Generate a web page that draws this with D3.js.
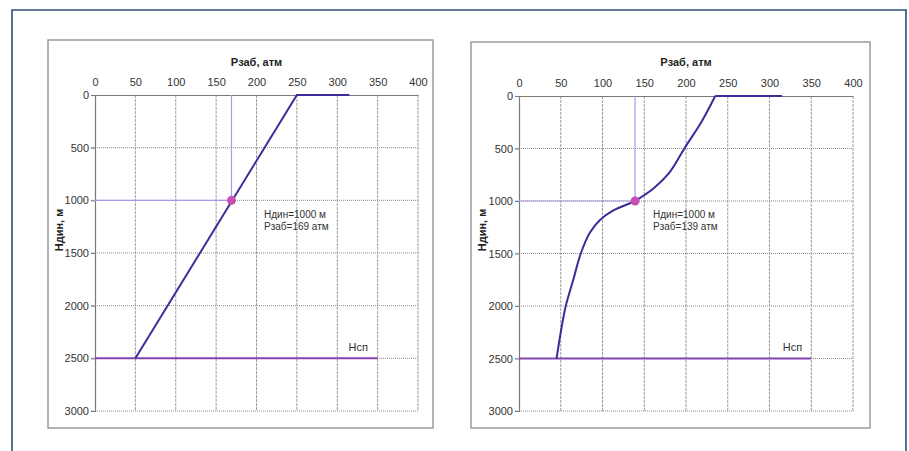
<!DOCTYPE html>
<html>
<head>
<meta charset="utf-8">
<script src="https://cdn.jsdelivr.net/npm/d3@7"></script>
<style>
  html, body { margin: 0; padding: 0; background: #fff; }
  svg { display: block; font-family: "Liberation Sans", Arial, sans-serif; }
</style>
</head>
<body>
<svg id="chart" width="909" height="451"></svg>
<script>
// Axis ticks
const pressureTicks = [0, 50, 100, 150, 200, 250, 300, 350, 400];
const depthTicks = [0, 500, 1000, 1500, 2000, 2500, 3000];

// Linear pressure profile (left panel)
const leftCurveP = [50, 250, 315];
const leftCurveH = [2500, 0, 0];

// Non-linear pressure profile (right panel), ordered by depth
const rightCurveP = [235, 219, 198, 181, 161, 145, 139, 113, 97, 85, 74, 65, 56, 50, 45];
const rightCurveH = [0, 240, 500, 720, 880, 970, 1000, 1090, 1180, 1300, 1500, 1750, 2000, 2250, 2500];
const rightTopP = [235, 315];
const rightTopH = [0, 0];

// Pump setting depth line
const nspP = [0, 350];
const nspH = [2500, 2500];

// Operating points
const leftPointP = 169, leftPointH = 1000;
const rightPointP = 139, rightPointH = 1000;

const xTitle = "Рзаб, атм";
const yTitle = "Ндин, м";
const nspLabel = "Нсп";

const svg = d3.select("#chart");

// outer frame
svg.append("path")
  .attr("d", "M12,460 L12,10 L906,10 L906,460")
  .attr("fill", "none").attr("stroke", "#2f4c7e").attr("stroke-width", 1.6);

function panel(opt) {
  const g = svg.append("g");
  const x = d3.scaleLinear().domain([0, 400]).range(opt.xr);
  const y = d3.scaleLinear().domain([0, 3000]).range(opt.yr);

  // panel box
  g.append("rect")
    .attr("x", opt.box[0]).attr("y", opt.box[1])
    .attr("width", opt.box[2] - opt.box[0]).attr("height", opt.box[3] - opt.box[1])
    .attr("fill", "#fff").attr("stroke", "#9a9a9a").attr("stroke-width", 1.5);

  // vertical grid
  g.selectAll(".vg").data(pressureTicks.filter(d => d > 0)).join("line")
    .attr("x1", d => x(d)).attr("x2", d => x(d))
    .attr("y1", y(0)).attr("y2", y(3000))
    .attr("stroke", "#9c9c9c").attr("stroke-width", 1)
    .attr("stroke-dasharray", "3,1");

  // horizontal grid
  g.selectAll(".hg").data(depthTicks.filter(d => d > 0)).join("line")
    .attr("x1", x(0) - 4).attr("x2", x(400))
    .attr("y1", d => y(d)).attr("y2", d => y(d))
    .attr("stroke", "#8a8a8a").attr("stroke-width", 1)
    .attr("stroke-dasharray", "1,1");

  // top axis
  const xAxis = d3.axisTop(x).tickValues(pressureTicks).tickFormat(d3.format("d"))
    .tickSize(0).tickPadding(9);
  const xa = g.append("g").attr("transform", `translate(0,${y(0)})`).call(xAxis);
  xa.select(".domain").attr("stroke", "#7a7a7a").attr("stroke-width", 1.2);
  xa.selectAll("text").attr("font-size", 11).attr("fill", "#333")
    .attr("font-family", "Liberation Sans, Arial, sans-serif");

  // left axis
  const yAxis = d3.axisLeft(y).tickValues(depthTicks).tickFormat(d3.format("d"))
    .tickSize(4).tickPadding(2);
  const ya = g.append("g").attr("transform", `translate(${x(0)},0)`).call(yAxis);
  ya.select(".domain").attr("stroke", "#7a7a7a").attr("stroke-width", 1.2);
  ya.selectAll(".tick line").attr("stroke", "#7a7a7a");
  ya.selectAll("text").attr("font-size", 11).attr("fill", "#333")
    .attr("font-family", "Liberation Sans, Arial, sans-serif");

  // axis titles
  g.append("text")
    .attr("x", (opt.xr[0] + opt.xr[1]) / 2).attr("y", 66)
    .attr("text-anchor", "middle").attr("font-size", 11).attr("font-weight", "bold")
    .attr("fill", "#222").text(xTitle);
  g.append("text")
    .attr("transform", `translate(${opt.ytx},230) rotate(-90)`)
    .attr("text-anchor", "middle").attr("font-size", 11).attr("font-weight", "bold")
    .attr("fill", "#222").text(yTitle);

  // guide lines to the operating point
  g.append("line")
    .attr("x1", x(0)).attr("x2", x(opt.pt[0]))
    .attr("y1", y(opt.pt[1])).attr("y2", y(opt.pt[1]))
    .attr("stroke", "#a89ae6").attr("stroke-width", 1.2);
  g.append("line")
    .attr("x1", x(opt.pt[0])).attr("x2", x(opt.pt[0]))
    .attr("y1", y(0)).attr("y2", y(opt.pt[1]))
    .attr("stroke", "#a89ae6").attr("stroke-width", 1.2);

  // pump depth line
  const line = d3.line().x(d => x(d[0])).y(d => y(d[1]));
  g.append("path")
    .datum(d3.zip(nspP, nspH))
    .attr("d", line)
    .attr("fill", "none").attr("stroke", "#8244ad").attr("stroke-width", 2);

  // pressure profile
  opt.curves.forEach(c => {
    g.append("path")
      .datum(d3.zip(c.p, c.h))
      .attr("d", d3.line().x(d => x(d[0])).y(d => y(d[1])).curve(c.curve))
      .attr("fill", "none").attr("stroke", "#3e2c9c").attr("stroke-width", 2);
  });

  // operating point
  g.append("circle")
    .attr("cx", x(opt.pt[0])).attr("cy", y(opt.pt[1])).attr("r", 4.5)
    .attr("fill", "#c64fb4");

  // annotation
  const ann = g.append("text").attr("font-size", 10).attr("fill", "#333");
  ann.append("tspan").attr("x", opt.annX).attr("y", 218).text(`Ндин=${opt.pt[1]} м`);
  ann.append("tspan").attr("x", opt.annX).attr("y", 230).text(`Рзаб=${opt.pt[0]} атм`);

  g.append("text")
    .attr("x", x(opt.nspAt)).attr("y", 351)
    .attr("font-size", 11).attr("fill", "#333").text(nspLabel);
}

panel({
  xr: [95, 418], yr: [95, 411],
  box: [48, 40, 433, 428],
  ytx: 63,
  pt: [leftPointP, leftPointH],
  annX: 264,
  nspAt: 314,
  curves: [{ p: leftCurveP, h: leftCurveH, curve: d3.curveLinear }]
});

panel({
  xr: [519, 853], yr: [96, 411],
  box: [471, 42, 870, 428],
  ytx: 486,
  pt: [rightPointP, rightPointH],
  annX: 653,
  nspAt: 316,
  curves: [
    { p: rightCurveP, h: rightCurveH, curve: d3.curveCatmullRom.alpha(0.5) },
    { p: rightTopP, h: rightTopH, curve: d3.curveLinear }
  ]
});
</script>
</body>
</html>
